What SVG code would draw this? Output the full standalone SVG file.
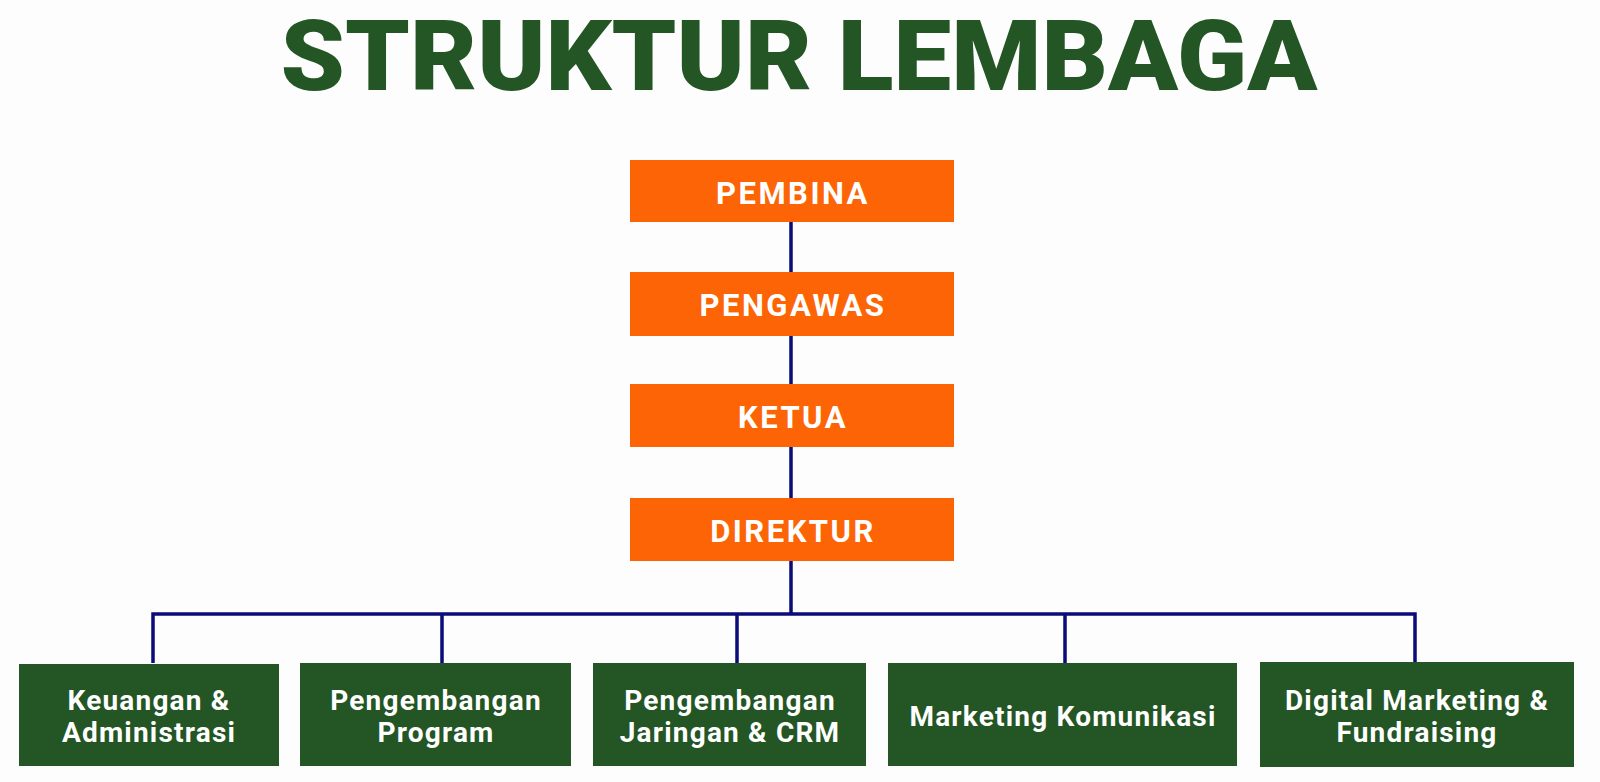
<svg xmlns="http://www.w3.org/2000/svg" width="1600" height="782" viewBox="0 0 1600 782">
<style>
.title{font-family:Roboto,"Liberation Sans",Arial,sans-serif;font-weight:900;fill:#245524;font-size:98px;}
.ob{fill:#FD6405;}
.gb{fill:#245524;}
.ot{font-family:Roboto,"Liberation Sans",sans-serif;font-weight:bold;fill:#fff;font-size:31px;letter-spacing:2.5px;text-anchor:middle;}
.gt{font-family:Roboto,"Liberation Sans",sans-serif;font-weight:bold;fill:#fff;font-size:28px;letter-spacing:1.2px;text-anchor:middle;}
.ln{stroke:#0b0b7a;stroke-width:3.5;fill:none;}
</style>
<rect width="1600" height="782" fill="#fdfdfd"/>
<text class="title" x="799" y="90" text-anchor="middle" textLength="1037" lengthAdjust="spacingAndGlyphs">STRUKTUR LEMBAGA</text>
<g id="connectors">
<path class="ln" d="M791 222V614M153 663V614H1415V663M442 614V663M737 614V663M1065 614V663"/>
</g>
<g id="pembina"><rect class="ob" x="630" y="160" width="324" height="62"/><text class="ot" x="793" y="204">PEMBINA</text></g>
<g id="pengawas"><rect class="ob" x="630" y="272" width="324" height="64"/><text class="ot" x="793" y="316">PENGAWAS</text></g>
<g id="ketua"><rect class="ob" x="630" y="384" width="324" height="63"/><text class="ot" x="793" y="428">KETUA</text></g>
<g id="direktur"><rect class="ob" x="630" y="498" width="324" height="63"/><text class="ot" x="793" y="542">DIREKTUR</text></g>
<g id="keuangan"><rect class="gb" x="19" y="664" width="260" height="102"/><text class="gt" x="149" y="710">Keuangan &amp;</text><text class="gt" x="149" y="742">Administrasi</text></g>
<g id="program"><rect class="gb" x="300" y="663" width="271" height="103"/><text class="gt" x="436" y="710">Pengembangan</text><text class="gt" x="436" y="742">Program</text></g>
<g id="jaringan"><rect class="gb" x="593" y="663" width="273" height="103"/><text class="gt" x="730" y="710">Pengembangan</text><text class="gt" x="730" y="742">Jaringan &amp; CRM</text></g>
<g id="marketing"><rect class="gb" x="888" y="663" width="349" height="103"/><text class="gt" x="1063" y="726">Marketing Komunikasi</text></g>
<g id="digital"><rect class="gb" x="1260" y="662" width="314" height="105"/><text class="gt" x="1417" y="710">Digital Marketing &amp;</text><text class="gt" x="1417" y="742">Fundraising</text></g>
</svg>
